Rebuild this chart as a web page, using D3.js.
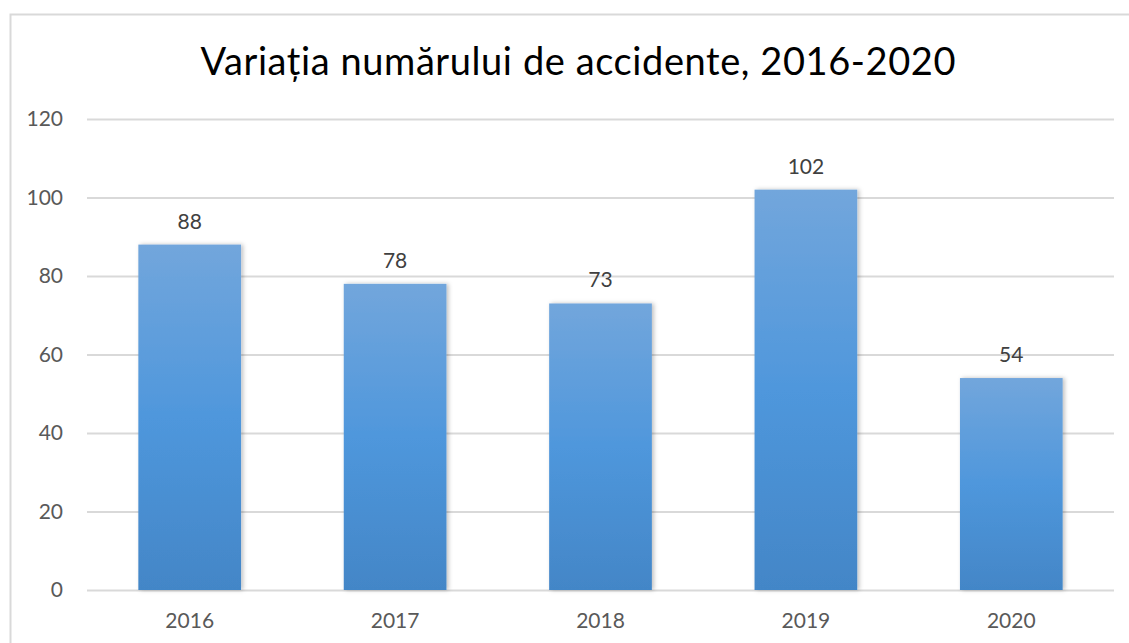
<!DOCTYPE html>
<html><head><meta charset="utf-8">
<script src="https://cdn.jsdelivr.net/npm/d3@7"></script>
<style>body{margin:0;background:#fff;}svg{display:block;font-family:Lato,"Open Sans",sans-serif;}</style>
</head><body>
<svg id="c" width="1129" height="643"></svg>
<script>
const categories = ["2016","2017","2018","2019","2020"];
const values = [88,78,73,102,54];
const yTicks = [0,20,40,60,80,100,120];
const title = "Variația numărului de accidente, 2016-2020";

const svg = d3.select("#c");
const m = {left:87, right:1114, top:119, bottom:590};
const font = "Lato,'Open Sans',sans-serif";

svg.append("rect").attr("x",10.5).attr("y",14.5).attr("width",1130).attr("height",700)
  .attr("fill","#fff").attr("stroke","#d9d9d9").attr("stroke-width",2);

const defs = svg.append("defs");
const g1 = defs.append("linearGradient").attr("id","bg").attr("x1",0).attr("y1",0).attr("x2",0).attr("y2",1);
g1.append("stop").attr("offset","0%").attr("stop-color","#72a6dc");
g1.append("stop").attr("offset","50%").attr("stop-color","#4f97dc");
g1.append("stop").attr("offset","100%").attr("stop-color","#4386c7");
const f = defs.append("filter").attr("id","sh").attr("x","-10%").attr("y","-10%").attr("width","130%").attr("height","120%");
f.append("feDropShadow").attr("dx",2).attr("dy",0).attr("stdDeviation",2).attr("flood-color","#000").attr("flood-opacity",0.25);

const x = d3.scaleBand().domain(categories).range([m.left,m.right]).paddingInner(0.5).paddingOuter(0.25);
const y = d3.scaleLinear().domain([0,120]).range([m.bottom,m.top]);

svg.append("text").attr("x",578).attr("y",75).attr("text-anchor","middle")
  .attr("font-size",38).attr("fill","#000").attr("textLength",755).attr("lengthAdjust","spacing").text(title);

const yAxis = svg.append("g").attr("transform",`translate(${m.left},0)`)
  .call(d3.axisLeft(y).tickValues(yTicks).tickSize(-(m.right-m.left)).tickPadding(24));
yAxis.select(".domain").remove();
yAxis.selectAll(".tick line").attr("stroke","#d9d9d9").attr("stroke-width",2);
yAxis.selectAll(".tick text").attr("fill","#595959").attr("font-size",21).attr("font-family",font);

const xAxis = svg.append("g").attr("transform",`translate(0,${m.bottom})`)
  .call(d3.axisBottom(x).tickSize(0).tickPadding(23));
xAxis.select(".domain").remove();
xAxis.selectAll(".tick text").attr("fill","#595959").attr("font-size",21).attr("font-family",font);

svg.append("g").selectAll("rect").data(values).join("rect")
  .attr("x",(d,i)=>x(categories[i])).attr("width",x.bandwidth())
  .attr("y",d=>y(d)).attr("height",d=>y(0)-y(d))
  .attr("fill","url(#bg)").attr("filter","url(#sh)");

svg.append("g").selectAll("text").data(values).join("text")
  .attr("x",(d,i)=>x(categories[i])+x.bandwidth()/2).attr("y",d=>y(d)-16)
  .attr("text-anchor","middle").attr("font-size",21).attr("fill","#404040").text(d=>d);
</script>
</body></html>
